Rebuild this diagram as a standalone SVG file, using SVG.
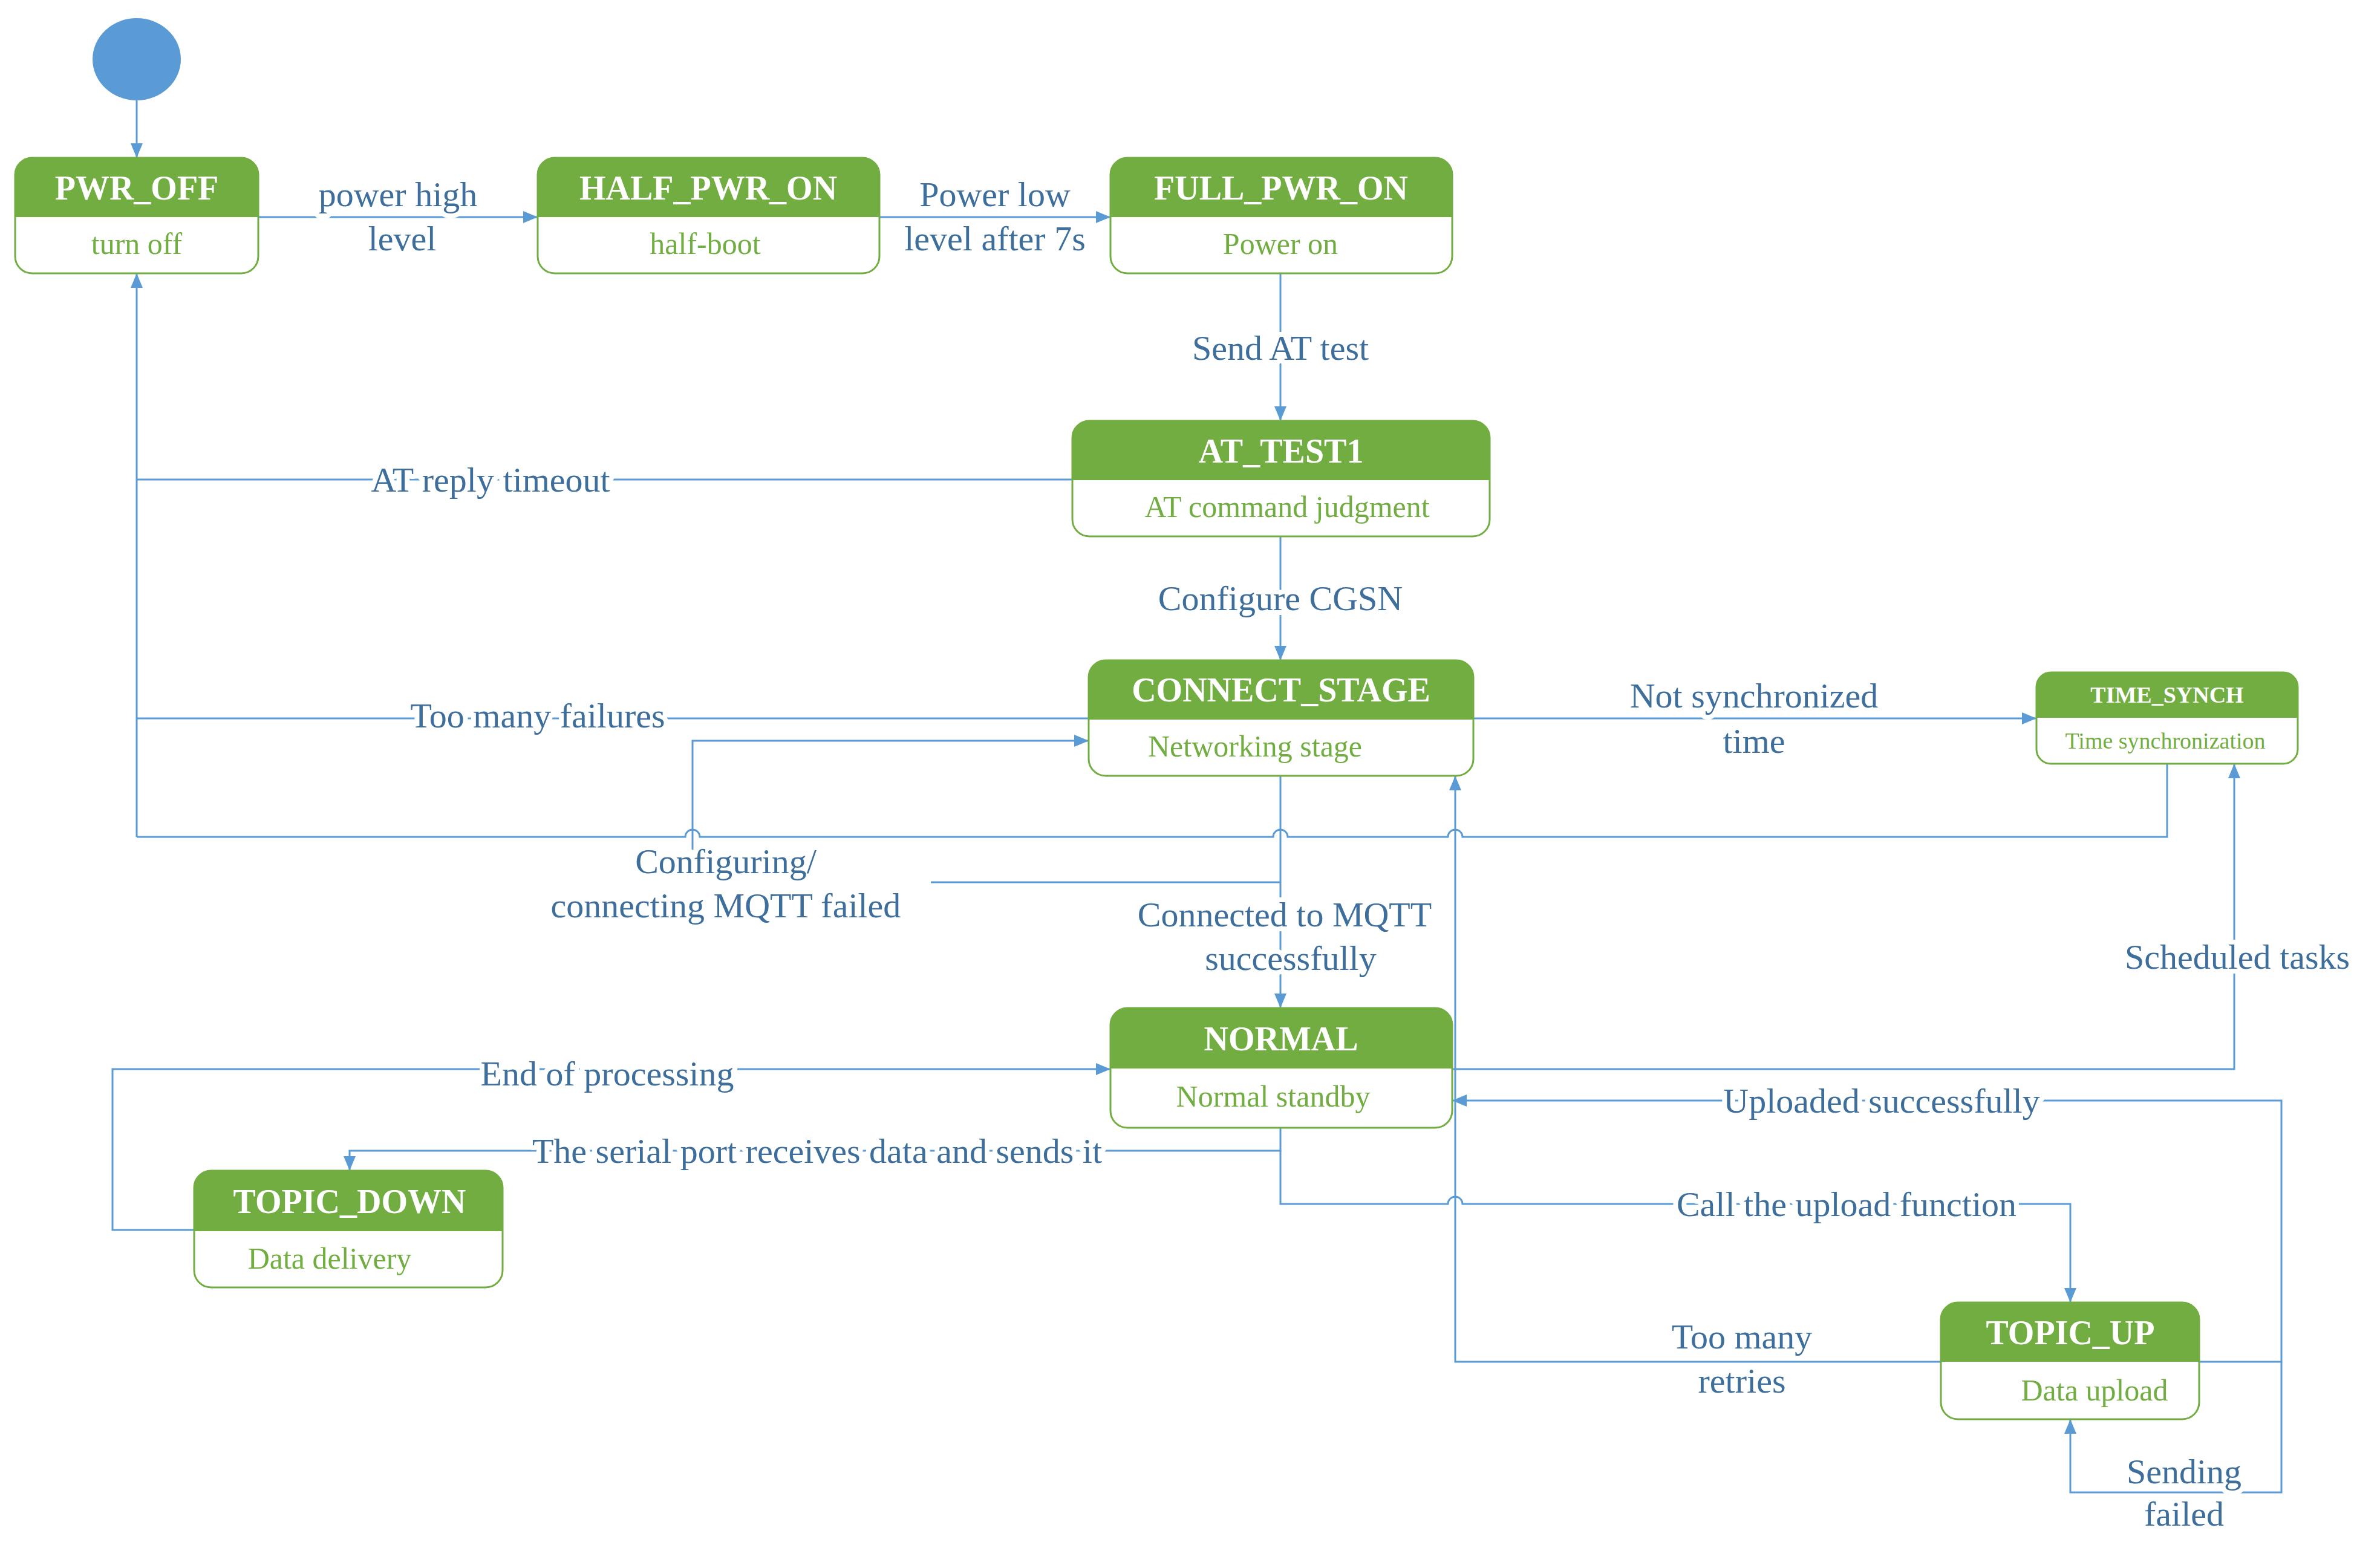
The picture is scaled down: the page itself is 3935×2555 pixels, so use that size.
<svg xmlns="http://www.w3.org/2000/svg" width="3935" height="2555" viewBox="0 0 3935 2555">
<style>
.hd{fill:#72AD42}
.bx{fill:#fff;stroke:#72AD42;stroke-width:3}
.t{font-family:"Liberation Serif",serif;font-weight:bold;fill:#fff;text-anchor:middle;font-size:56px}
.s{font-family:"Liberation Serif",serif;fill:#72AD42;text-anchor:middle;font-size:50px}
.c{fill:none;stroke:#5B9BD5;stroke-width:3}
.a{marker-end:url(#ar)}
.l{font-family:"Liberation Serif",serif;fill:#3E6E9C;text-anchor:middle;font-size:58px;stroke:#fff;stroke-width:16;paint-order:stroke;stroke-linejoin:round}
</style>
<defs>
<marker id="ar" markerUnits="userSpaceOnUse" markerWidth="24" markerHeight="24" viewBox="0 0 24 24" refX="24" refY="12" orient="auto"><path d="M0 2 L24 12 L0 22 Z" fill="#5B9BD5"/></marker>
</defs>
<rect width="3935" height="2555" fill="#fff"/>
<g id="connectors">
<path class="c a" d="M226 166 V261"/>
<path class="c a" d="M427 359 H889"/>
<path class="c a" d="M1454 359 H1836"/>
<path class="c a" d="M2117 452 V696"/>
<path class="c" d="M1773 793 H226"/>
<path class="c a" d="M226 1384 V452"/>
<path class="c a" d="M2117 886 V1092"/>
<path class="c" d="M1800 1188 H226"/>
<path class="c" d="M226 1384 H1133 a12 12 0 0 1 24 0 H2105 a12 12 0 0 1 24 0 H2394 a12 12 0 0 1 24 0 H3583 V1263"/>
<path class="c" d="M2117 1459 H1539"/>
<path class="c a" d="M1145 1405 V1225 H1800"/>
<path class="c a" d="M2117 1283 V1667"/>
<path class="c a" d="M2436 1188 H3367"/>
<path class="c a" d="M2401 1768 H3694 V1263"/>
<path class="c a" d="M321 2034 H186 V1768 H1836"/>
<path class="c a" d="M2117 1865 V1903 H578 V1936"/>
<path class="c a" d="M2117 1903 V1991 H2394 a12 12 0 0 1 24 0 H3423 V2154"/>
<path class="c a" d="M3209 2252 H2406 V1283"/>
<path class="c a" d="M3636 2252 H3772 V1820 H2401"/>
<path class="c a" d="M3772 2252 V2468 H3423 V2347"/>
</g>
<g id="labels">
<text class="l" x="658" y="341">power high</text>
<text class="l" x="665" y="414">level</text>
<text class="l" x="1645" y="341">Power low</text>
<text class="l" x="1645" y="414">level after 7s</text>
<text class="l" x="2117" y="595">Send AT test</text>
<text class="l" x="811" y="813">AT reply timeout</text>
<text class="l" x="2117" y="1009">Configure CGSN</text>
<text class="l" x="889" y="1203">Too many failures</text>
<text class="l" x="2900" y="1170">Not synchronized</text>
<text class="l" x="2900" y="1245">time</text>
<text class="l" x="1200" y="1444">Configuring/</text>
<text class="l" x="1200" y="1517">connecting MQTT failed</text>
<text class="l" x="2124" y="1532">Connected to MQTT</text>
<text class="l" x="2134" y="1604">successfully</text>
<text class="l" x="3699" y="1602">Scheduled tasks</text>
<text class="l" x="1004" y="1795">End of processing</text>
<text class="l" x="1351" y="1923">The serial port receives data and sends it</text>
<text class="l" x="3111" y="1840">Uploaded successfully</text>
<text class="l" x="3053" y="2011">Call the upload function</text>
<text class="l" x="2880" y="2230">Too many</text>
<text class="l" x="2880" y="2303">retries</text>
<text class="l" x="3611" y="2453">Sending</text>
<text class="l" x="3611" y="2523">failed</text>
</g>
<g id="start"><ellipse cx="226" cy="98" rx="73" ry="68" fill="#5B9BD5"/></g>
<g id="PWR_OFF"><rect class="bx" x="25" y="261" width="402" height="191" rx="28"/><path class="hd" d="M25 359 V289 a28 28 0 0 1 28 -28 H399 a28 28 0 0 1 28 28 V359 Z"/><text class="t" x="226" y="330">PWR_OFF</text><text class="s" x="226" y="420">turn off</text></g>
<g id="HALF_PWR_ON"><rect class="bx" x="889" y="261" width="565" height="191" rx="28"/><path class="hd" d="M889 359 V289 a28 28 0 0 1 28 -28 H1426 a28 28 0 0 1 28 28 V359 Z"/><text class="t" x="1171" y="330">HALF_PWR_ON</text><text class="s" x="1166" y="420">half-boot</text></g>
<g id="FULL_PWR_ON"><rect class="bx" x="1836" y="261" width="565" height="191" rx="28"/><path class="hd" d="M1836 359 V289 a28 28 0 0 1 28 -28 H2373 a28 28 0 0 1 28 28 V359 Z"/><text class="t" x="2118" y="330">FULL_PWR_ON</text><text class="s" x="2117" y="420">Power on</text></g>
<g id="AT_TEST1"><rect class="bx" x="1773" y="696" width="690" height="191" rx="28"/><path class="hd" d="M1773 794 V724 a28 28 0 0 1 28 -28 H2435 a28 28 0 0 1 28 28 V794 Z"/><text class="t" x="2118" y="765">AT_TEST1</text><text class="s" x="2128" y="855">AT command judgment</text></g>
<g id="CONNECT_STAGE"><rect class="bx" x="1800" y="1092" width="636" height="191" rx="28"/><path class="hd" d="M1800 1190 V1120 a28 28 0 0 1 28 -28 H2408 a28 28 0 0 1 28 28 V1190 Z"/><text class="t" x="2118" y="1160">CONNECT_STAGE</text><text class="s" x="2075" y="1251">Networking stage</text></g>
<g id="TIME_SYNCH"><rect class="bx" x="3367" y="1112" width="432" height="151" rx="24"/><path class="hd" d="M3367 1187 V1136 a24 24 0 0 1 24 -24 H3775 a24 24 0 0 1 24 24 V1187 Z"/><text class="t" x="3583" y="1162" style="font-size:38px">TIME_SYNCH</text><text class="s" x="3580" y="1238" style="font-size:38px">Time synchronization</text></g>
<g id="NORMAL"><rect class="bx" x="1836" y="1667" width="565" height="198" rx="28"/><path class="hd" d="M1836 1767 V1695 a28 28 0 0 1 28 -28 H2373 a28 28 0 0 1 28 28 V1767 Z"/><text class="t" x="2118" y="1737">NORMAL</text><text class="s" x="2105" y="1830">Normal standby</text></g>
<g id="TOPIC_DOWN"><rect class="bx" x="321" y="1936" width="510" height="193" rx="28"/><path class="hd" d="M321 2036 V1964 a28 28 0 0 1 28 -28 H803 a28 28 0 0 1 28 28 V2036 Z"/><text class="t" x="578" y="2006">TOPIC_DOWN</text><text class="s" x="545" y="2098">Data delivery</text></g>
<g id="TOPIC_UP"><rect class="bx" x="3209" y="2154" width="427" height="193" rx="28"/><path class="hd" d="M3209 2252 V2182 a28 28 0 0 1 28 -28 H3608 a28 28 0 0 1 28 28 V2252 Z"/><text class="t" x="3423" y="2223">TOPIC_UP</text><text class="s" x="3463" y="2316">Data upload</text></g>
</svg>
